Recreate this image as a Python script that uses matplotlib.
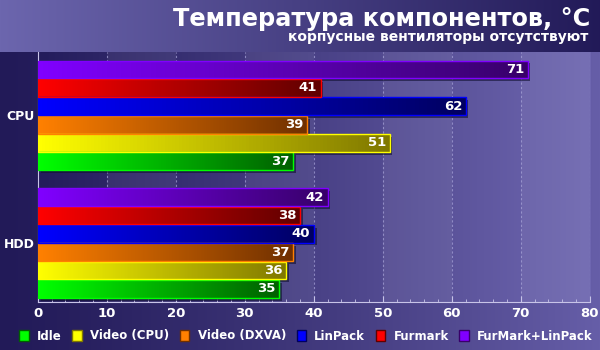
import numpy as np
import matplotlib
matplotlib.use("Agg")
import matplotlib.pyplot as plt
from matplotlib.colors import to_rgb
from matplotlib.patches import Patch
import matplotlib.patheffects as pe

# data
groups = ["HDD", "CPU"]
series = ["Idle", "Video (CPU)", "Video (DXVA)", "LinPack", "Furmark", "FurMark+LinPack"]
hdd_vals = [35, 36, 37, 40, 38, 42]
cpu_vals = [37, 51, 39, 62, 41, 71]
bright = ["#00ff00", "#ffff00", "#ff8000", "#0000ff", "#ff0000", "#8000ff"]
dark = ["#006000", "#807800", "#703000", "#000060", "#600000", "#38006a"]
title = "Температура компонентов, °C"
subtitle = "корпусные вентиляторы отсутствуют"

plt.rcParams["font.family"] = ["DejaVu Sans"]
plt.rcParams["font.weight"] = "bold"

fig = plt.figure(figsize=(6, 3.5), dpi=100)

# background gradient over the whole figure
bg = fig.add_axes([0, 0, 1, 1], zorder=-10)
bg.axis("off")
W, H = 600, 350
xs = np.linspace(0, 1, W)
img = np.zeros((H, W, 3))
top_l, top_r = np.array(to_rgb("#6c66ae")), np.array(to_rgb("#221a58"))
bot_l, bot_r = np.array(to_rgb("#221a58")), np.array(to_rgb("#665ea8"))
for r in range(H):
    if r < 52:
        img[r] = top_l + (top_r - top_l) * xs[:, None]
    else:
        img[r] = bot_l + (bot_r - bot_l) * (xs[:, None] ** 1.2)
bg.imshow(img, aspect="auto", extent=[0, 1, 0, 1])
bg.set_xlim(0, 1)
bg.set_ylim(0, 1)

ax = fig.add_axes([0.063, 0.137, 0.92, 0.714])
ax.set_facecolor("none")

n = len(series)
gap = 0.95
y_hdd = np.arange(n)
y_cpu = np.arange(n) + n + gap

# plot area gradient and alternating bands
ax.imshow(np.linspace(0, 1, 200)[None, :], cmap=matplotlib.colors.LinearSegmentedColormap.from_list(
    "bgp", ["#241c5c", "#6e66b0"]), aspect="auto", extent=[0, 80, -0.72, y_cpu[-1] + 0.95],
    zorder=0)
for x0 in range(10, 80, 20):
    ax.axvspan(x0, x0 + 10, color="white", alpha=0.06, lw=0, zorder=0.5)
for x0 in range(10, 90, 10):
    ax.axvline(x0, color="#a8a4d8", lw=0.8, ls=(0, (2, 2)), alpha=0.7, zorder=1)

def grad_bar(y, v, c1, c2):
    bars = ax.barh(y, v, height=0.97, color=c2, lw=0, zorder=2)
    for b in bars:
        b.set_path_effects([pe.SimplePatchShadow(offset=(2, -2), shadow_rgbFace="#101030", alpha=0.6),
                            pe.Normal()])
        x0, y0 = b.get_x(), b.get_y()
        cm = matplotlib.colors.LinearSegmentedColormap.from_list("g", [c1, c2])
        im = ax.imshow(np.linspace(0, 1, 100)[None, :], cmap=cm, aspect="auto",
                       extent=[x0, x0 + b.get_width(), y0, y0 + b.get_height()], zorder=3)
        im.set_clip_path(b)
    ax.barh(y, v, height=0.97, fill=False, edgecolor=c1, lw=1, zorder=4)
    for yy, vv in zip(y, v):
        ax.text(vv - 0.5, yy, str(vv), color="white", fontsize=9.5, fontweight="bold",
                ha="right", va="center", zorder=5)

for i in range(n):
    grad_bar([y_hdd[i], y_cpu[i]], [hdd_vals[i], cpu_vals[i]], bright[i], dark[i])

ax.set_xlim(0, 80)
ax.set_ylim(-0.72, y_cpu[-1] + 0.95)
ax.set_xticks(range(0, 90, 10))
ax.set_xticks(range(0, 81, 2), minor=True)
ax.set_yticks([y_hdd.mean(), y_cpu.mean()])
ax.set_yticklabels(groups)
ax.tick_params(axis="x", colors="white", labelsize=9.5, direction="in", length=4, color="#c8c4e8")
ax.tick_params(axis="x", which="minor", direction="in", length=2, color="#c8c4e8")
ax.tick_params(axis="y", colors="white", labelsize=9, length=0, pad=2)
for lab in ax.get_xticklabels() + ax.get_yticklabels():
    lab.set_fontweight("bold")
for s in ["top", "right"]:
    ax.spines[s].set_visible(False)
ax.spines["left"].set_color("#c8c4e8")
ax.spines["bottom"].set_color("#c8c4e8")

fig.text(0.983, 0.945, title, color="white", fontsize=17.3, fontweight="bold", ha="right", va="center")
fig.text(0.98, 0.893, subtitle, color="white", fontsize=10, fontweight="bold", ha="right", va="center")

handles = [Patch(facecolor=bright[i], edgecolor=dark[i], label=series[i]) for i in range(n)]
leg = fig.legend(handles=handles, loc="center", bbox_to_anchor=(0.51, 0.04), ncol=n, frameon=False,
                 fontsize=8.5, handlelength=0.8, handleheight=1.0, handletextpad=0.7, columnspacing=0.9,
                 borderpad=0, borderaxespad=0)
for t in leg.get_texts():
    t.set_color("white")
    t.set_fontweight("bold")

fig.savefig("out.png", dpi=100)
